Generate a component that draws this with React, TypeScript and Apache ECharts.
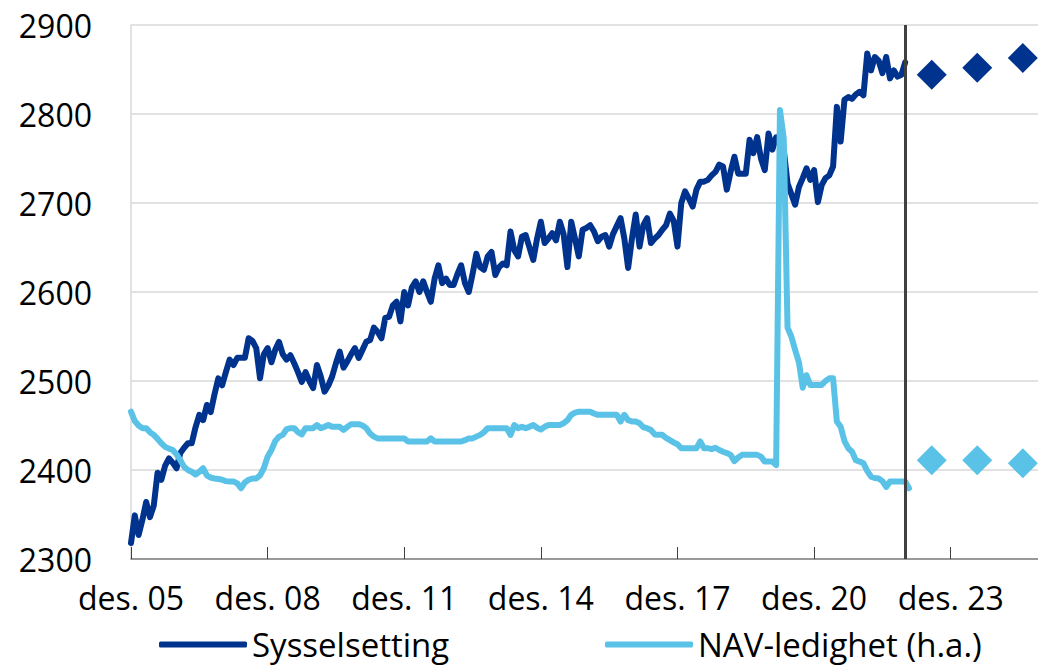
import React, { useEffect, useRef } from "react";
import * as echarts from "echarts";

// Month categories from des. 05 (monthly)
const MONTHS = ["jan.", "feb.", "mar.", "apr.", "mai", "jun.", "jul.", "aug.", "sep.", "okt.", "nov.", "des."];
const categories: string[] = [];
for (let k = 0; k < 240; k++) {
  const m = (11 + k) % 12;
  const y = 5 + Math.floor((11 + k) / 12);
  categories.push(`${MONTHS[m]} ${String(y).padStart(2, "0")}`);
}

// Sysselsetting (1000 personer), left axis, des. 05 – des. 22
const sysselsetting = [
  2318, 2349, 2327, 2344, 2364, 2347, 2360, 2397, 2389, 2405, 2413, 2408,
  2402, 2419, 2425, 2430, 2430, 2448, 2462, 2456, 2473, 2465, 2485, 2503,
  2495, 2510, 2524, 2518, 2526, 2526, 2526, 2548, 2545, 2537, 2503, 2530,
  2537, 2521, 2535, 2544, 2530, 2524, 2529, 2520, 2510, 2499, 2510, 2500,
  2492, 2518, 2505, 2488, 2495, 2505, 2520, 2533, 2515, 2522, 2530, 2537,
  2526, 2535, 2544, 2546, 2560, 2555, 2548, 2571, 2572, 2585, 2589, 2567,
  2600, 2585, 2605, 2612, 2600, 2612, 2600, 2589, 2615, 2630, 2610, 2615,
  2608, 2608, 2620, 2630, 2610, 2600, 2620, 2643, 2628, 2625, 2640, 2645,
  2619, 2628, 2632, 2630, 2668, 2647, 2640, 2662, 2664, 2650, 2636, 2660,
  2679, 2655, 2660, 2666, 2658, 2679, 2665, 2628, 2679, 2660, 2640, 2670,
  2672, 2675, 2668, 2657, 2662, 2664, 2651, 2665, 2674, 2683, 2660, 2627,
  2660, 2687, 2651, 2675, 2683, 2655, 2660, 2664, 2670, 2675, 2688, 2680,
  2651, 2700, 2713, 2705, 2696, 2715, 2724, 2724, 2726, 2731, 2735, 2743,
  2741, 2715, 2735, 2752, 2733, 2733, 2733, 2771, 2756, 2774, 2750, 2737,
  2778, 2760, 2774, 2774, 2760, 2722, 2710, 2698, 2718, 2728, 2739, 2726,
  2737, 2701, 2720, 2728, 2731, 2741, 2808, 2769, 2816, 2819, 2817, 2822,
  2825, 2821, 2868, 2849, 2864, 2860, 2846, 2864, 2840, 2849, 2842, 2844,
  2858,
];

// NAV-ledighet (prosent), right axis, des. 05 – jan. 23
const navLedighet = [
  3.31, 3.1, 3.0, 2.94, 2.94, 2.85, 2.79, 2.7, 2.6, 2.52, 2.48, 2.45,
  2.35, 2.22, 2.07, 2.0, 1.96, 1.9, 1.96, 2.04, 1.88, 1.83, 1.81, 1.8,
  1.78, 1.75, 1.74, 1.74, 1.7, 1.59, 1.72, 1.78, 1.81, 1.81, 1.88, 2.04,
  2.3, 2.45, 2.65, 2.75, 2.79, 2.92, 2.94, 2.94, 2.85, 2.8, 2.94, 2.94,
  2.94, 3.01, 2.94, 2.97, 3.01, 2.97, 2.97, 2.97, 2.9, 2.97, 3.03, 3.03,
  3.03, 3.0, 2.94, 2.82, 2.75, 2.71, 2.71, 2.71, 2.71, 2.71, 2.71, 2.71,
  2.71, 2.64, 2.64, 2.64, 2.64, 2.64, 2.64, 2.71, 2.64, 2.64, 2.64, 2.64,
  2.64, 2.64, 2.64, 2.64, 2.67, 2.71, 2.71, 2.75, 2.79, 2.85, 2.94, 2.94,
  2.94, 2.94, 2.94, 2.94, 2.79, 3.01, 2.94, 2.97, 2.94, 2.97, 3.01, 2.95,
  2.91, 2.97, 3.01, 3.01, 3.01, 3.01, 3.05, 3.12, 3.24, 3.29, 3.31, 3.31,
  3.31, 3.31, 3.27, 3.24, 3.24, 3.24, 3.24, 3.24, 3.24, 3.09, 3.24, 3.12,
  3.09, 3.09, 3.05, 2.96, 2.94, 2.9, 2.8, 2.79, 2.79, 2.72, 2.67, 2.62,
  2.58, 2.49, 2.49, 2.49, 2.49, 2.49, 2.64, 2.49, 2.49, 2.47, 2.5, 2.45,
  2.41, 2.38, 2.34, 2.2, 2.28, 2.34, 2.34, 2.34, 2.34, 2.34, 2.3, 2.19,
  2.19, 2.19, 2.11, 10.09, 9.45, 5.2, 5.0, 4.7, 4.42, 3.85, 4.13, 3.91,
  3.91, 3.91, 3.91, 4.0, 4.06, 4.06, 3.09, 2.97, 2.65, 2.49, 2.41, 2.22,
  2.19, 2.15, 1.98, 1.85, 1.82, 1.81, 1.75, 1.62, 1.74, 1.74, 1.74, 1.74,
  1.74, 1.59,
];

// Forecasts (annual)
const forecastDates = ["jul. 23", "jul. 24", "jul. 25"];
const forecastSysselsetting = [2844, 2852, 2863];
const forecastNav = [2.22, 2.22, 2.15];

const lastObservation = "des. 22";

const yTicks = [2300, 2400, 2500, 2600, 2700, 2800, 2900];

const DARK = "#00338D";
const LIGHT = "#5BC2E7";
const FONT = "'Open Sans', 'Noto Sans', sans-serif";

export default function App() {
  const ref = useRef<HTMLDivElement>(null);

  useEffect(() => {
    document.body.style.margin = "0";
    const chart = echarts.init(ref.current!, undefined, { renderer: "svg" });
    const legendBase = {
      top: 623,
      icon: "roundRect",
      itemWidth: 88,
      itemHeight: 6,
      textStyle: { fontSize: 33, color: "#000", fontFamily: FONT },
      selectedMode: false,
    };
    const option: any = {
      animation: false,
      textStyle: { fontFamily: FONT, color: "#000" },
      grid: { left: 131, right: 0, top: 25, bottom: 108, containLabel: false },
      legend: [
        { ...legendBase, data: ["Sysselsetting"], left: 154 },
        { ...legendBase, data: ["NAV-ledighet (h.a.)"], left: 600 },
      ],
      xAxis: {
        type: "category",
        data: categories,
        boundaryGap: false,
        axisLine: { show: true, lineStyle: { color: "#808080", width: 1.5 } },
        axisTick: {
          show: true,
          inside: true,
          length: 12,
          interval: (i: number) => i % 36 === 0,
          lineStyle: { color: "#404040", width: 1 },
        },
        axisLabel: {
          interval: (i: number) => i % 36 === 0,
          fontSize: 32,
          color: "#000",
          fontFamily: FONT,
          margin: 22,
        },
        splitLine: { show: false },
      },
      yAxis: [
        {
          type: "value",
          min: yTicks[0],
          max: yTicks[yTicks.length - 1],
          interval: 100,
          axisLine: { show: true, lineStyle: { color: "#d9d9d9", width: 1.5 } },
          axisTick: { show: false },
          axisLabel: {
            fontSize: 32,
            color: "#000",
            fontFamily: FONT,
            margin: 39,
            formatter: (v: number) => String(v),
          },
          splitLine: { show: true, lineStyle: { color: "#d9d9d9", width: 1.5 } },
        },
        {
          type: "value",
          min: 0,
          max: 12,
          interval: 2,
          show: false,
          splitLine: { show: false },
        },
      ],
      series: [
        {
          name: "Sysselsetting",
          type: "line",
          data: sysselsetting,
          yAxisIndex: 0,
          symbol: "none",
          lineStyle: { color: DARK, width: 6, cap: "round", join: "round" },
          itemStyle: { color: DARK },
          z: 2,
        },
        {
          name: "NAV-ledighet (h.a.)",
          type: "line",
          data: navLedighet,
          yAxisIndex: 1,
          symbol: "none",
          lineStyle: { color: LIGHT, width: 6, cap: "round", join: "round" },
          itemStyle: { color: LIGHT },
          z: 3,
        },
        {
          name: "Sysselsetting prognose",
          type: "scatter",
          yAxisIndex: 0,
          data: forecastDates.map((d, k) => [d, forecastSysselsetting[k]]),
          symbol: "diamond",
          symbolSize: 30,
          clip: false,
          itemStyle: { color: DARK, opacity: 1 },
          z: 4,
        },
        {
          name: "NAV prognose",
          type: "scatter",
          yAxisIndex: 1,
          data: forecastDates.map((d, k) => [d, forecastNav[k]]),
          symbol: "diamond",
          symbolSize: 30,
          clip: false,
          itemStyle: { color: LIGHT, opacity: 1 },
          z: 4,
          markLine: {
            silent: true,
            symbol: ["none", "none"],
            label: { show: false },
            lineStyle: { color: "#404040", width: 3, type: "solid" },
            data: [{ xAxis: lastObservation }],
          },
        },
      ],
    };
    chart.setOption(option);
    return () => chart.dispose();
  }, []);

  return <div ref={ref} style={{ width: 1038, height: 667 }} />;
}
